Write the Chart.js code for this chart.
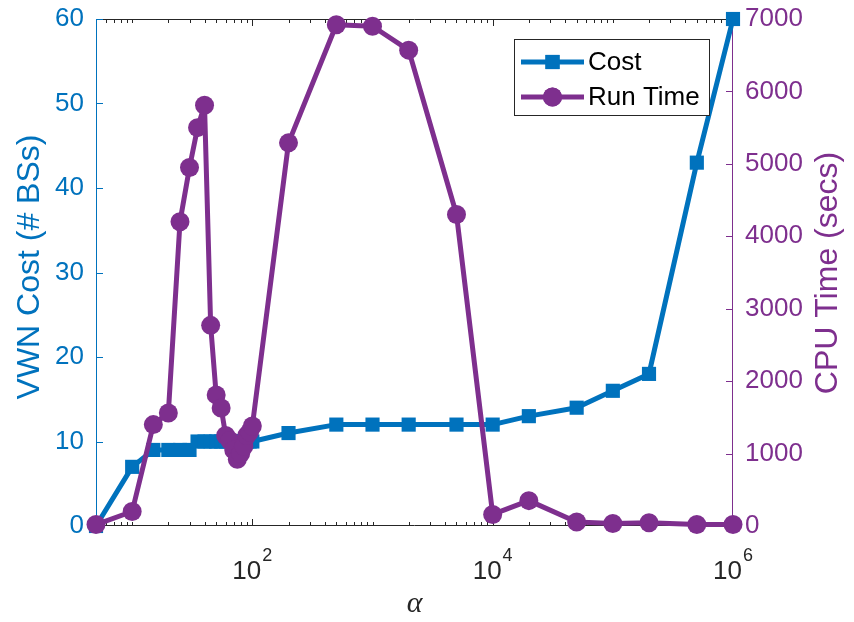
<!DOCTYPE html>
<html>
<head>
<meta charset="utf-8">
<script src="https://cdn.jsdelivr.net/npm/chart.js@4/dist/chart.umd.min.js"></script>
<style>
    html, body { margin: 0; padding: 0; background: #fff; }
    #wrap { width: 854px; height: 622px; position: relative; }
</style>
</head>
<body>
<div id="wrap"><canvas id="chart"></canvas></div>
<script>
const alpha = [5, 10, 15, 20, 25, 30, 35, 40, 45, 50, 55, 60, 65, 70, 75, 80, 85, 90, 95, 100,
    200, 500, 1000, 2000, 5000, 1e4, 2e4, 5e4, 1e5, 2e5, 5e5, 1e6]
const cost = [0, 7, 9, 9, 9, 9, 10, 10, 10, 10, 10, 10, 10, 10, 10, 10, 10, 10, 10, 10,
    11, 12, 12, 12, 12, 12, 13, 14, 16, 18, 43, 60]
const runTime = [20, 200, 1400, 1560, 4200, 4950, 5500, 5810, 2770, 1810, 1630, 1250, 1180, 1050, 920, 1000, 1100, 1250, 1300, 1380,
    5290, 6920, 6900, 6570, 4300, 160, 350, 55, 35, 45, 20, 20]
const xMajorTicks = [100, 1e4, 1e6]
const costTicks = [0, 10, 20, 30, 40, 50, 60]
const timeTicks = [0, 1000, 2000, 3000, 4000, 5000, 6000, 7000]

const BLUE = '#0072BD'
const PURPLE = '#7E2F8E'
const DARK = '#262626'
const FONT = '"Liberation Sans", Arial, sans-serif'

const axesPlugin = {
    id: 'matlabAxes',
    beforeDatasetsDraw(chart) {
        const { ctx, chartArea: a, scales } = chart
        const x = scales.x, y = scales.y, y1 = scales.y1
        ctx.save()
        ctx.lineWidth = 1
        // box
        ctx.strokeStyle = DARK
        ctx.beginPath()
        ctx.moveTo(a.left, a.top + 0.5); ctx.lineTo(a.right, a.top + 0.5)
        ctx.moveTo(a.left, a.bottom - 0.5); ctx.lineTo(a.right, a.bottom - 0.5)
        // x ticks, inward on bottom and top
        for (let e = 0; e <= 6; e++) {
            for (let m = 1; m <= 9; m++) {
                const v = m * Math.pow(10, e)
                if (v < x.min || v > x.max) continue
                const px = Math.round(x.getPixelForValue(v)) + 0.5
                const len = xMajorTicks.includes(v) ? 7 : 4
                ctx.moveTo(px, a.bottom); ctx.lineTo(px, a.bottom - len)
                ctx.moveTo(px, a.top); ctx.lineTo(px, a.top + len)
            }
        }
        ctx.stroke()

        ctx.strokeStyle = BLUE
        ctx.beginPath()
        ctx.moveTo(a.left + 0.5, a.top); ctx.lineTo(a.left + 0.5, a.bottom)
        costTicks.forEach(v => {
            const py = Math.round(y.getPixelForValue(v)) + 0.5
            ctx.moveTo(a.left, py); ctx.lineTo(a.left + 7, py)
        })
        ctx.stroke()

        ctx.strokeStyle = PURPLE
        ctx.beginPath()
        ctx.moveTo(a.right - 0.5, a.top); ctx.lineTo(a.right - 0.5, a.bottom)
        timeTicks.forEach(v => {
            const py = Math.round(y1.getPixelForValue(v)) + 0.5
            ctx.moveTo(a.right, py); ctx.lineTo(a.right - 7, py)
        })
        ctx.stroke()

        // x tick labels 10^n
        ctx.fillStyle = DARK
        ctx.textBaseline = 'alphabetic'
        xMajorTicks.forEach(v => {
            const px = x.getPixelForValue(v)
            const exp = String(Math.round(Math.log10(v)))
            ctx.font = '26px ' + FONT
            const wBase = ctx.measureText('10').width
            ctx.font = '18px ' + FONT
            const wExp = ctx.measureText(exp).width
            const left = px - (wBase + wExp + 1) / 2
            ctx.font = '26px ' + FONT
            ctx.textAlign = 'left'
            ctx.fillText('10', left, a.bottom + 53)
            ctx.font = '18px ' + FONT
            ctx.fillText(exp, left + wBase + 1, a.bottom + 35)
        })

        // axis titles
        ctx.textAlign = 'center'
        ctx.textBaseline = 'middle'
        ctx.font = '32px ' + FONT
        ctx.fillStyle = BLUE
        ctx.save()
        ctx.translate(30, 267)
        ctx.rotate(-Math.PI / 2)
        ctx.fillText('VWN Cost (# BSs)', 0, 0)
        ctx.restore()
        ctx.fillStyle = PURPLE
        ctx.save()
        ctx.translate(828, 273)
        ctx.rotate(-Math.PI / 2)
        ctx.fillText('CPU Time (secs)', 0, 0)
        ctx.restore()
        ctx.fillStyle = DARK
        ctx.font = 'italic 30px "Liberation Serif", serif'
        ctx.fillText('α', (a.left + a.right) / 2, 604)
        ctx.restore()
    },
    afterDraw(chart) {
        const { ctx } = chart
        ctx.save()
        ctx.fillStyle = '#fff'
        ctx.strokeStyle = DARK
        ctx.lineWidth = 1
        ctx.fillRect(514.5, 39.5, 195, 76)
        ctx.strokeRect(514.5, 39.5, 195, 76)
        const rows = [{ ds: chart.data.datasets[0], y: 62 }, { ds: chart.data.datasets[1], y: 97 }]
        rows.forEach(r => {
            ctx.strokeStyle = r.ds.borderColor
            ctx.lineWidth = r.ds.borderWidth
            ctx.beginPath()
            ctx.moveTo(521, r.y); ctx.lineTo(584, r.y)
            ctx.stroke()
            ctx.fillStyle = r.ds.borderColor
            Chart.helpers.drawPoint(ctx, { pointStyle: r.ds.pointStyle, radius: r.ds.pointRadius, borderWidth: 0 }, 552.5, r.y)
            ctx.fill()
            ctx.fillStyle = '#000'
            ctx.font = '26px ' + FONT
            ctx.textAlign = 'left'
            ctx.textBaseline = 'middle'
            ctx.fillText(r.ds.label, 588, r.y + 1)
        })
        ctx.restore()
    }
}

// fixed box sizes so the plot area matches the figure
const fixWidth = w => s => {
    s.width = w
    s.paddingTop = 0
    s.paddingBottom = 0
}

new Chart(document.getElementById('chart'), {
    type: 'line',
    data: {
        datasets: [{
            label: 'Cost',
            data: alpha.map((a, i) => ({ x: a, y: cost[i] })),
            yAxisID: 'y',
            borderColor: BLUE,
            backgroundColor: BLUE,
            borderWidth: 5,
            borderJoinStyle: 'round',
            borderCapStyle: 'round',
            pointStyle: 'rect',
            pointRadius: 10,
            pointBorderWidth: 0,
            pointBackgroundColor: BLUE,
            clip: false,
            order: 1
        }, {
            label: 'Run Time',
            data: alpha.map((a, i) => ({ x: a, y: runTime[i] })),
            yAxisID: 'y1',
            borderColor: PURPLE,
            backgroundColor: PURPLE,
            borderWidth: 5,
            borderJoinStyle: 'round',
            borderCapStyle: 'round',
            pointStyle: 'circle',
            pointRadius: 9.5,
            pointBorderWidth: 0,
            pointBackgroundColor: PURPLE,
            clip: false,
            order: 0
        }]
    },
    options: {
        responsive: true,
        maintainAspectRatio: false,
        animation: false,
        events: [],
        layout: { padding: { top: 19, left: 0, right: 0, bottom: 0 } },
        plugins: { legend: { display: false }, tooltip: { enabled: false } },
        elements: { line: { tension: 0 } },
        scales: {
            x: {
                type: 'logarithmic',
                min: 5,
                max: 1e6,
                grid: { display: false, drawTicks: false },
                border: { display: false },
                ticks: { display: false },
                afterFit: s => {
                    s.height = 96
                    s.paddingLeft = 0
                    s.paddingRight = 0
                }
            },
            y: {
                position: 'left',
                min: 0,
                max: 60,
                afterBuildTicks: s => { s.ticks = costTicks.map(v => ({ value: v })) },
                grid: { display: false, drawTicks: false },
                border: { display: false },
                ticks: { color: BLUE, font: { family: FONT, size: 26 }, padding: 12, callback: v => String(v) },
                afterFit: fixWidth(96)
            },
            y1: {
                position: 'right',
                min: 0,
                max: 7000,
                afterBuildTicks: s => { s.ticks = timeTicks.map(v => ({ value: v })) },
                grid: { display: false, drawTicks: false },
                border: { display: false },
                ticks: { color: PURPLE, font: { family: FONT, size: 26 }, padding: 12, callback: v => String(v) },
                afterFit: fixWidth(121)
            }
        }
    },
    plugins: [axesPlugin]
})
</script>
</body>
</html>
